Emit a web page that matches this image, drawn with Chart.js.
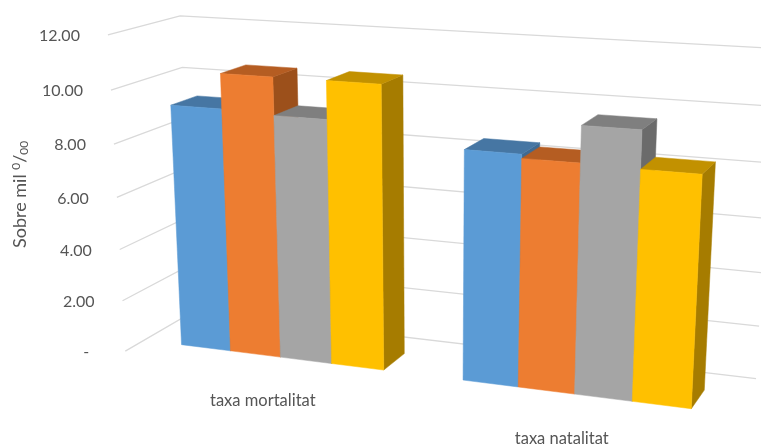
<!DOCTYPE html>
<html>
<head>
<meta charset="utf-8">
<style>
html, body { margin: 0; padding: 0; background: #ffffff; }
#wrap { width: 761px; height: 445px; }
</style>
<script src="https://cdn.jsdelivr.net/npm/chart.js@4"></script>
</head>
<body>
<div id="wrap"><canvas id="chart" width="761" height="445"></canvas></div>
<script>
var categories = ['taxa mortalitat', 'taxa natalitat'];
var seriesA = [9.3, 8.5];
var seriesB = [10.6, 8.35];
var seriesC = [9.2, 9.65];
var seriesD = [10.6, 8.3];
var tickLabels = ['-', '2.00', '4.00', '6.00', '8.00', '10.00', '12.00'];

var faceColors = ['#5B9BD5', '#ED7D31', '#A5A5A5', '#FFC000'];
var topColors = ['#4676A3', '#B55D22', '#7F7F7F', '#C29100'];
var sideColors = ['#3F6A92', '#9C501B', '#6B6B6B', '#A67C00'];

var TEXT_COLOR = '#555555';
var GRID_COLOR = '#D9D9D9';
var FONT = 'Lato, "Open Sans", sans-serif';

// where the box of the 3D plot lands on the page: [u, v, w, x, y]
var boxCorners = [
    [0, 0, 0, 125, 352], [0, 1, 0, 108, 35],
    [0, 0, 1, 193, 311], [0, 1, 1, 180, 16],
    [1, 0, 1, 756, 380], [1, 1, 1, 775, 48],
    [1, 0, 0, 725, 427], [1, 1, 0, 744, 73]
];
var BAR_FRONT = 0.27;
var BAR_BACK = 0.65;
var BAR_NUDGE = 0.003;

function solve(A, b) {
    var n = b.length;
    for (var i = 0; i < n; i++) {
        var p = i;
        for (var r = i + 1; r < n; r++) {
            if (Math.abs(A[r][i]) > Math.abs(A[p][i])) p = r;
        }
        var tmp = A[i]; A[i] = A[p]; A[p] = tmp;
        var t = b[i]; b[i] = b[p]; b[p] = t;
        for (var k = i + 1; k < n; k++) {
            var f = A[k][i] / A[i][i];
            for (var c = i; c < n; c++) A[k][c] -= f * A[i][c];
            b[k] -= f * b[i];
        }
    }
    var out = new Array(n);
    for (var j = n - 1; j >= 0; j--) {
        var s = b[j];
        for (var m = j + 1; m < n; m++) s -= A[j][m] * out[m];
        out[j] = s / A[j][j];
    }
    return out;
}

// least squares fit of the perspective from the corners above
function fitProjection() {
    var N = [], B = [];
    for (var i = 0; i < 11; i++) {
        N.push(new Array(11).fill(0));
        B.push(0);
    }
    function add(row, rhs) {
        for (var i = 0; i < 11; i++) {
            for (var j = 0; j < 11; j++) N[i][j] += row[i] * row[j];
            B[i] += row[i] * rhs;
        }
    }
    boxCorners.forEach(function(p) {
        var u = p[0], v = p[1], w = p[2], x = p[3], y = p[4];
        add([u, v, w, 1, 0, 0, 0, 0, -x * u, -x * v, -x * w], x);
        add([0, 0, 0, 0, u, v, w, 1, -y * u, -y * v, -y * w], y);
    });
    return solve(N, B);
}

var h = fitProjection();

function project(u, v, w) {
    var d = h[8] * u + h[9] * v + h[10] * w + 1;
    return {
        x: (h[0] * u + h[1] * v + h[2] * w + h[3]) / d,
        y: (h[4] * u + h[5] * v + h[6] * w + h[7]) / d
    };
}

function poly(ctx, pts, color) {
    ctx.beginPath();
    ctx.moveTo(pts[0].x, pts[0].y);
    for (var i = 1; i < pts.length; i++) ctx.lineTo(pts[i].x, pts[i].y);
    ctx.closePath();
    ctx.fillStyle = color;
    ctx.fill();
    // thin same colour stroke closes the hairline seams between faces
    ctx.strokeStyle = color;
    ctx.lineWidth = 0.5;
    ctx.stroke();
}

function drawGrid(chart) {
    var ctx = chart.ctx, area = chart.chartArea, yScale = chart.scales.y;
    ctx.strokeStyle = GRID_COLOR;
    ctx.lineWidth = 1.3;
    yScale.ticks.forEach(function(tick) {
        var v = (area.bottom - yScale.getPixelForValue(tick.value)) / area.height;
        var a = project(0, v, 0), b = project(0, v, 1), c = project(1, v, 1);
        ctx.beginPath();
        ctx.moveTo(a.x, a.y);
        ctx.lineTo(b.x, b.y);
        ctx.lineTo(c.x, c.y);
        ctx.stroke();
    });
}

function drawBars(chart) {
    var ctx = chart.ctx, area = chart.chartArea;
    var groups = chart.scales.x.ticks.length;
    for (var g = 0; g < groups; g++) {
        chart.data.datasets.forEach(function(ds, s) {
            var bar = chart.getDatasetMeta(s).data[g];
            var u0 = (bar.x - bar.width / 2 - area.left) / area.width + BAR_NUDGE;
            var u1 = (bar.x + bar.width / 2 - area.left) / area.width + BAR_NUDGE;
            var v0 = (area.bottom - bar.base) / area.height;
            var v1 = (area.bottom - bar.y) / area.height;
            var f0 = project(u0, v0, BAR_FRONT), f1 = project(u1, v0, BAR_FRONT);
            var t0 = project(u0, v1, BAR_FRONT), t1 = project(u1, v1, BAR_FRONT);
            var b1 = project(u1, v0, BAR_BACK);
            var k0 = project(u0, v1, BAR_BACK), k1 = project(u1, v1, BAR_BACK);
            poly(ctx, [f1, b1, k1, t1], sideColors[s]);
            poly(ctx, [t0, k0, k1, t1], topColors[s]);
            poly(ctx, [f0, f1, t1, t0], faceColors[s]);
        });
    }
}

function drawTickLabels(chart) {
    var ctx = chart.ctx, area = chart.chartArea, yScale = chart.scales.y;
    ctx.fillStyle = TEXT_COLOR;
    ctx.font = '16px ' + FONT;
    ctx.textAlign = 'right';
    ctx.textBaseline = 'middle';
    yScale.ticks.forEach(function(tick) {
        var v = (area.bottom - yScale.getPixelForValue(tick.value)) / area.height;
        var p = project(0, v, 0);
        ctx.fillText(tick.label, p.x - (tick.value === 0 ? 36 : 28), p.y + 1);
    });
}

function drawCategoryLabels(chart) {
    var ctx = chart.ctx, area = chart.chartArea, xScale = chart.scales.x;
    ctx.fillStyle = TEXT_COLOR;
    ctx.font = '16.5px ' + FONT;
    ctx.textAlign = 'center';
    ctx.textBaseline = 'middle';
    categories.forEach(function(name, i) {
        var u = (xScale.getPixelForTick(i) - area.left) / area.width;
        var p = project(u, 0, 0);
        ctx.fillText(name, p.x + 1, p.y + 32);
    });
}

function drawAxisTitle(chart) {
    var ctx = chart.ctx;
    ctx.save();
    ctx.translate(20, 248);
    ctx.rotate(-Math.PI / 2);
    ctx.fillStyle = TEXT_COLOR;
    ctx.textAlign = 'left';
    ctx.textBaseline = 'middle';
    var x = 0;
    // "Sobre mil", raised 0, slash, lowered 00
    [['Sobre mil ', 18, 0], ['0', 12, -4], ['/', 18, 0], ['00', 12, 4]].forEach(function(part) {
        ctx.font = part[1] + 'px ' + FONT;
        ctx.fillText(part[0], x, part[2]);
        x += ctx.measureText(part[0]).width;
    });
    ctx.restore();
}

var perspectivePlugin = {
    id: 'perspective',
    beforeDatasetsDraw: function(chart) {
        drawGrid(chart);
        drawBars(chart);
        drawTickLabels(chart);
        drawCategoryLabels(chart);
        drawAxisTitle(chart);
        return false;
    }
};

function makeSet(values, i) {
    return {
        label: 'serie ' + (i + 1),
        data: values,
        backgroundColor: faceColors[i],
        categoryPercentage: 0.73,
        barPercentage: 1
    };
}

new Chart(document.getElementById('chart'), {
    type: 'bar',
    data: {
        labels: categories,
        datasets: [seriesA, seriesB, seriesC, seriesD].map(makeSet)
    },
    options: {
        responsive: false,
        animation: false,
        layout: { padding: 0 },
        plugins: { legend: { display: false }, tooltip: { enabled: false } },
        scales: {
            x: { display: false },
            y: {
                display: false,
                min: 0,
                max: 12,
                ticks: {
                    stepSize: 2,
                    callback: function(value) {
                        return tickLabels[value / 2];
                    }
                }
            }
        }
    },
    plugins: [perspectivePlugin]
});
</script>
</body>
</html>
